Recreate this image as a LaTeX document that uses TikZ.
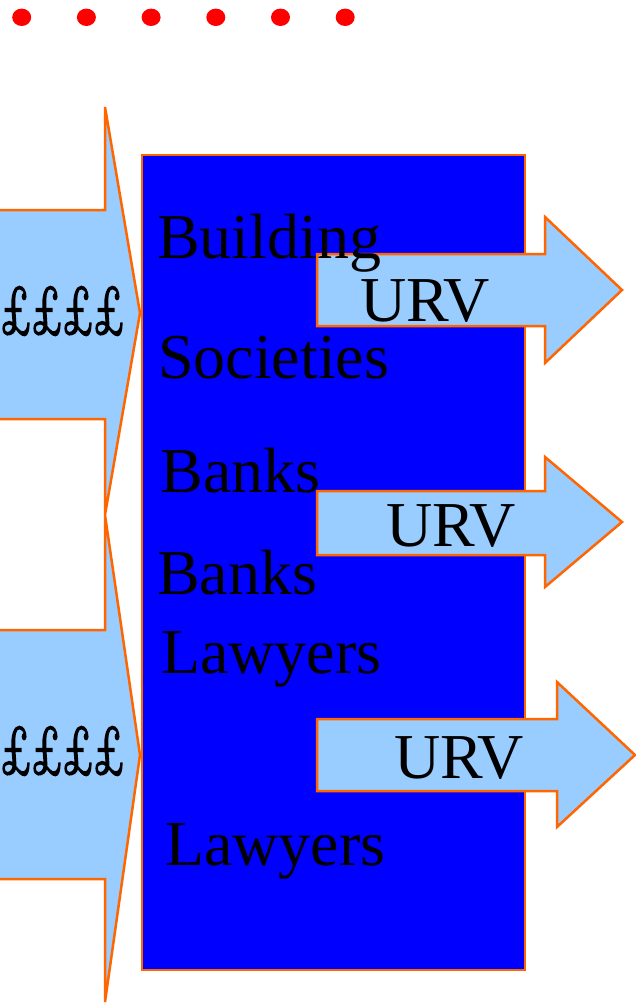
\documentclass[tikz,border=0pt]{standalone}
\usepackage{fontspec}
\usepackage{graphicx}
\setmainfont{Liberation Serif}
\newfontfamily\poundfont[FakeBold=3.5]{Latin Modern Roman}
\definecolor{edgeorange}{HTML}{FF6600}
\definecolor{paleblue}{HTML}{99CCFF}
\definecolor{boxblue}{HTML}{0000FF}
\definecolor{dotred}{HTML}{FF0000}
\tikzset{
  flowarrow/.style={draw=edgeorange, fill=paleblue, line width=2.5pt, line join=miter},
  bankbox/.style={draw=edgeorange, fill=boxblue, line width=2.5pt},
  bigtext/.style={anchor=base west, inner sep=0pt, outer sep=0pt, font=\fontsize{64}{64}\selectfont, text=black},
  pounds/.style={bigtext, font=\poundfont\fontsize{68}{68}\selectfont},
  reddot/.style={fill=dotred, draw=none}
}
\newcommand{\poundrow}{\resizebox{124pt}{\height}{££££}}
\begin{document}
\begin{tikzpicture}[x=1pt,y=-1pt]
\clip (0,0) rectangle (636,1004);
\fill[white] (0,0) rectangle (636,1004);
% red dots
\foreach \cx in {21.7,86.4,151.1,215.8,280.5,345.2}
  \fill[reddot] (\cx,17.3) ellipse [x radius=9.5pt, y radius=8.7pt];
% left arrows
\draw[flowarrow] (-10,210) -- (105,210) -- (105,107) -- (140,313) -- (105,515) -- (105,419) -- (-10,419) -- cycle;
\draw[flowarrow] (-10,630) -- (105,630) -- (105,515) -- (140,755) -- (105,1002) -- (105,879) -- (-10,879) -- cycle;
% blue box
\draw[bankbox] (142,155) rectangle (525,970);
% right arrows
\draw[flowarrow] (317,254) -- (545,254) -- (545,217) -- (622,290) -- (545,363) -- (545,326) -- (317,326) -- cycle;
\draw[flowarrow] (317,491) -- (545,491) -- (545,457) -- (622,522) -- (545,587) -- (545,555) -- (317,555) -- cycle;
\draw[flowarrow] (317,719) -- (557,719) -- (557,682) -- (635,755) -- (557,827) -- (557,791) -- (317,791) -- cycle;
% texts
\node[bigtext] (building) at (157,258.3) {Building};
\node[bigtext] (societies) at (158,378.3) {Societies};
\node[bigtext] (banksA) at (160.5,492.7) {Banks};
\node[bigtext] (banksB) at (157,594) {Banks};
\node[bigtext] (lawyersA) at (161,673) {Lawyers};
\node[bigtext] (lawyersB) at (165,865) {Lawyers};
\node[pounds] (poundsA) at (0.5,333.3) {\poundrow};
\node[pounds] (poundsB) at (0.5,773.3) {\poundrow};
\node[bigtext] (urvA) at (360,321.7) {URV};
\node[bigtext] (urvB) at (386,546.7) {URV};
\node[bigtext] (urvC) at (394,778.3) {URV};
\end{tikzpicture}
\end{document}
